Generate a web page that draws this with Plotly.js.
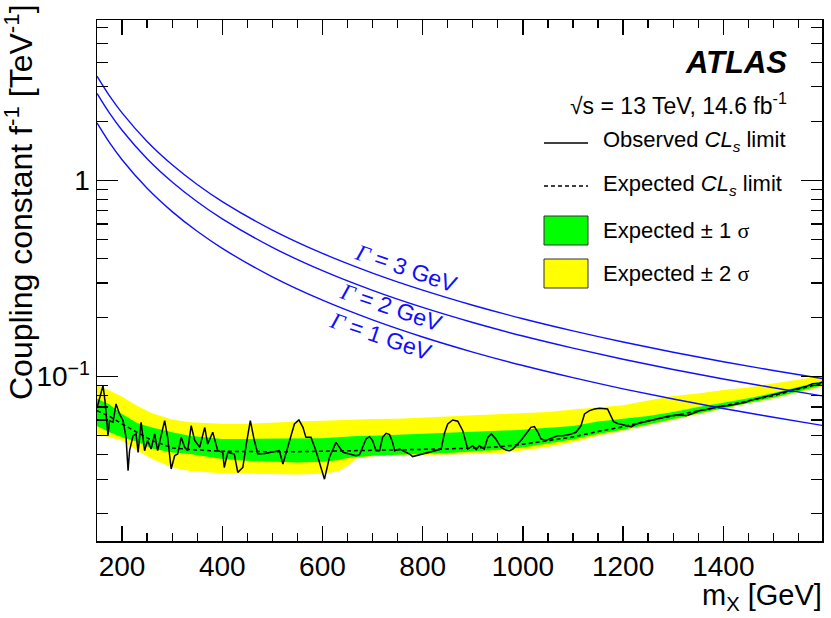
<!DOCTYPE html>
<html>
<head>
<meta charset="utf-8">
<script src="https://cdn.plot.ly/plotly-3.0.1.min.js"></script>
<style>html,body{margin:0;padding:0;background:#fff;}#plot{width:831px;height:618px;}</style>
</head>
<body>
<div id="plot"></div>
<script>
// ---------------- data ----------------
const bandMass = [150, 175, 200, 230, 260, 300, 335, 400, 450, 500, 550, 600, 630, 650, 670, 700, 750, 800, 850, 900, 950, 1000, 1050, 1100, 1150, 1200, 1250, 1300, 1350, 1400, 1450, 1500, 1550, 1600];
const expectedLimit = [0.067, 0.0627, 0.0573, 0.052, 0.0472, 0.0433, 0.0425, 0.0416, 0.0414, 0.0414, 0.0414, 0.0416, 0.0417, 0.0419, 0.042, 0.0422, 0.0423, 0.0425, 0.0428, 0.0432, 0.0438, 0.0452, 0.0471, 0.0492, 0.0525, 0.0555, 0.0595, 0.063, 0.0668, 0.071, 0.0752, 0.08, 0.0862, 0.0928];
const sigma1Up = [0.077, 0.072, 0.0645, 0.058, 0.055, 0.052, 0.05, 0.0481, 0.0481, 0.0481, 0.0481, 0.0485, 0.049, 0.0495, 0.0498, 0.05, 0.0505, 0.051, 0.0515, 0.052, 0.0527, 0.0535, 0.0548, 0.056, 0.059, 0.061, 0.063, 0.066, 0.07, 0.0735, 0.0775, 0.0825, 0.0885, 0.095];
const sigma1Down = [0.056, 0.052, 0.049, 0.0465, 0.043, 0.041, 0.0403, 0.038, 0.0372, 0.0368, 0.0365, 0.0368, 0.0375, 0.0385, 0.039, 0.0395, 0.04, 0.0403, 0.0408, 0.0415, 0.0422, 0.0435, 0.0455, 0.0478, 0.051, 0.0535, 0.057, 0.061, 0.0648, 0.069, 0.0732, 0.078, 0.084, 0.0905];
const sigma2Up = [0.09, 0.085, 0.079, 0.071, 0.065, 0.0605, 0.0585, 0.0575, 0.0575, 0.0585, 0.059, 0.0595, 0.06, 0.0603, 0.0605, 0.0607, 0.061, 0.0615, 0.0625, 0.0635, 0.0642, 0.065, 0.066, 0.068, 0.0697, 0.0715, 0.0755, 0.0795, 0.082, 0.0855, 0.088, 0.092, 0.096, 0.101];
const sigma2Down = [0.051, 0.049, 0.0472, 0.042, 0.038, 0.0344, 0.033, 0.0322, 0.032, 0.0318, 0.0317, 0.032, 0.0328, 0.035, 0.0385, 0.0393, 0.0395, 0.0397, 0.04, 0.0403, 0.0406, 0.042, 0.0438, 0.0462, 0.05, 0.053, 0.0565, 0.0605, 0.0645, 0.0688, 0.0728, 0.0772, 0.0832, 0.089];

const obsMass = [150, 156, 162, 166, 172, 175, 182, 188, 195, 202, 208, 212, 215, 222, 228, 232, 238, 245, 251, 258, 265, 271, 278, 285, 291, 298, 305, 311, 318, 325, 331, 338, 345, 355, 365, 371, 381, 391, 401, 404, 411, 424, 431, 441, 448, 456, 464, 471, 485, 501, 514, 521, 534, 544, 553, 561, 567, 577, 587, 597, 604, 614, 627, 641, 654, 667, 674, 680, 687, 694, 700, 707, 714, 720, 727, 734, 740, 744, 754, 760, 774, 780, 787, 800, 813, 827, 837, 843, 850, 860, 870, 880, 887, 890, 900, 907, 913, 923, 930, 937, 946, 956, 966, 973, 980, 990, 996, 1006, 1016, 1023, 1030, 1036, 1046, 1053, 1060, 1070, 1080, 1093, 1106, 1116, 1123, 1133, 1143, 1153, 1169, 1176, 1181, 1189, 1199, 1209, 1216, 1226, 1239, 1252, 1266, 1279, 1292, 1312, 1326, 1336, 1352, 1372, 1392, 1412, 1432, 1445, 1452, 1465, 1485, 1505, 1525, 1545, 1565, 1578, 1592, 1597];
const obsLimit = [0.069, 0.08, 0.09, 0.075, 0.05, 0.0596, 0.0585, 0.0725, 0.0645, 0.0596, 0.049, 0.0331, 0.0419, 0.05, 0.051, 0.0411, 0.0585, 0.0419, 0.0472, 0.0427, 0.051, 0.0419, 0.051, 0.0596, 0.049, 0.0338, 0.0395, 0.0403, 0.049, 0.0436, 0.0419, 0.0562, 0.0472, 0.0436, 0.0551, 0.0453, 0.052, 0.0419, 0.0411, 0.0344, 0.0411, 0.0403, 0.0325, 0.0344, 0.0453, 0.0596, 0.0472, 0.0403, 0.0405, 0.0411, 0.0419, 0.0358, 0.0462, 0.0573, 0.0601, 0.0551, 0.049, 0.049, 0.0419, 0.0338, 0.03, 0.0388, 0.0462, 0.0411, 0.0403, 0.0395, 0.04, 0.0436, 0.0481, 0.0494, 0.0472, 0.0419, 0.0419, 0.049, 0.0514, 0.0506, 0.0462, 0.0419, 0.0427, 0.0419, 0.0403, 0.0391, 0.0395, 0.0403, 0.0411, 0.0419, 0.0427, 0.051, 0.0573, 0.0601, 0.0592, 0.053, 0.0462, 0.0427, 0.0444, 0.0424, 0.0444, 0.0427, 0.049, 0.051, 0.0481, 0.0436, 0.0422, 0.0419, 0.0427, 0.0453, 0.0472, 0.051, 0.0551, 0.0556, 0.052, 0.0481, 0.0472, 0.0481, 0.049, 0.05, 0.05, 0.0506, 0.052, 0.0562, 0.0645, 0.0671, 0.0684, 0.0689, 0.0684, 0.0632, 0.0589, 0.0577, 0.0568, 0.0562, 0.0555, 0.0573, 0.0584, 0.0596, 0.0608, 0.062, 0.0629, 0.0639, 0.0632, 0.0644, 0.067, 0.0684, 0.0703, 0.0711, 0.0725, 0.074, 0.0754, 0.0769, 0.0791, 0.0815, 0.0841, 0.0865, 0.0889, 0.0918, 0.0925, 0.0936];

const widthMass = [150, 175, 200, 250, 300, 350, 400, 500, 600, 700, 800, 900, 1000, 1100, 1200, 1300, 1400, 1500, 1600];
const gamma1GeV = [1.96, 1.555, 1.273, 0.9108, 0.6928, 0.5498, 0.45, 0.322, 0.2449, 0.1944, 0.1591, 0.1333, 0.1138, 0.0987, 0.0866, 0.0768, 0.0687, 0.062, 0.05625];
const gamma2GeV = [2.772, 2.199, 1.8, 1.288, 0.98, 0.7776, 0.6364, 0.4554, 0.3463, 0.2749, 0.225, 0.1885, 0.1609, 0.1396, 0.1225, 0.1086, 0.0972, 0.0877, 0.0795];
const gamma3GeV = [3.395, 2.693, 2.205, 1.578, 1.2, 0.9523, 0.7794, 0.5577, 0.4242, 0.3367, 0.2756, 0.2309, 0.1971, 0.1709, 0.15, 0.133, 0.119, 0.1074, 0.0974];
const gammaLabels = ["Γ = 1 GeV", "Γ = 2 GeV", "Γ = 3 GeV"];
const gammaLabelMass = [716, 736, 766];
const gammaLabelValue = [0.1618, 0.2249, 0.3556];

const xTickVals = [200, 400, 600, 800, 1000, 1200, 1400];
const yTickVals = [0.1, 1];
const yTickText = ["10<sup>−1</sup>", "1"];
const yMinorVals = [0.02, 0.03, 0.04, 0.05, 0.06, 0.07, 0.08, 0.09, 0.2, 0.3, 0.4, 0.5, 0.6, 0.7, 0.8, 0.9, 2, 3, 4, 5, 6];
const legendLabels = ["Observed <i>CL<sub>s</sub></i> limit", "Expected <i>CL<sub>s</sub></i> limit",
  "Expected ± 1 <span style=\"font-family:'Liberation Serif'\">σ</span>", "Expected ± 2 <span style=\"font-family:'Liberation Serif'\">σ</span>"];

// ---------------- layout helpers ----------------
const W = 831, H = 618, ML = 97, MR = 9, MT = 20, MB = 77;
const PW = W - ML - MR, PH = H - MT - MB;
const px = x => (x - ML) / PW;
const py = y => (H - MB - y) / PH;
const FONT = "Liberation Sans, Arial, Helvetica, sans-serif";
const BLUE = "#1010ff";

const traces = [
  {x: bandMass, y: sigma2Down, mode: "lines", line: {width: 0, color: "#ffff00"}, hoverinfo: "skip", showlegend: false},
  {x: bandMass, y: sigma2Up, mode: "lines", line: {width: 0, color: "#ffff00"}, fill: "tonexty", fillcolor: "#ffff00", hoverinfo: "skip", showlegend: false},
  {x: bandMass, y: sigma1Down, mode: "lines", line: {width: 0, color: "#00ff00"}, hoverinfo: "skip", showlegend: false},
  {x: bandMass, y: sigma1Up, mode: "lines", line: {width: 0, color: "#00ff00"}, fill: "tonexty", fillcolor: "#00ff00", hoverinfo: "skip", showlegend: false},
  {x: bandMass, y: expectedLimit, mode: "lines", line: {width: 1.5, color: "#000", dash: "4px,3px"}, showlegend: false},
  {x: obsMass, y: obsLimit, mode: "lines", line: {width: 1.5, color: "#000"}, showlegend: false},
  {x: widthMass, y: gamma1GeV, mode: "lines", line: {width: 1.4, color: BLUE, shape: "spline"}, showlegend: false},
  {x: widthMass, y: gamma2GeV, mode: "lines", line: {width: 1.4, color: BLUE, shape: "spline"}, showlegend: false},
  {x: widthMass, y: gamma3GeV, mode: "lines", line: {width: 1.4, color: BLUE, shape: "spline"}, showlegend: false}
];

const annotations = [];
// Gamma labels (data coordinates; log axis uses log10 for annotation y)
for (let i = 0; i < gammaLabels.length; i++) {
  annotations.push({xref: "x", yref: "y", x: gammaLabelMass[i], y: Math.log10(gammaLabelValue[i]),
    text: gammaLabels[i].replace("Γ", "<span style=\"font-family:'Liberation Serif'\"><i>Γ</i></span>"),
    showarrow: false, textangle: 19, font: {family: FONT, size: 23, color: BLUE}});
}
annotations.push({xref: "paper", yref: "paper", x: px(789), y: py(63), xanchor: "right", yanchor: "middle",
  text: "<b><i>ATLAS</i></b>", showarrow: false, font: {family: FONT, size: 31, color: "#000"}});
annotations.push({xref: "paper", yref: "paper", x: px(789), y: py(104), xanchor: "right", yanchor: "middle",
  text: "√s = 13 TeV, 14.6 fb<sup>-1</sup>", showarrow: false, font: {family: FONT, size: 23, color: "#000"}});
const legendY = [141, 185, 230, 273];
for (let i = 0; i < legendLabels.length; i++) {
  annotations.push({xref: "paper", yref: "paper", x: px(601), y: py(legendY[i]), xanchor: "left", yanchor: "middle",
    text: legendLabels[i], showarrow: false, font: {family: FONT, size: 22, color: "#000"}});
}
annotations.push({xref: "paper", yref: "paper", x: px(19), y: py(2), xanchor: "center", yanchor: "top", textangle: -90,
  text: "Coupling constant f<sup>-1</sup> [TeV<sup>-1</sup>]", showarrow: false, font: {family: FONT, size: 32, color: "#000"}});
annotations.push({xref: "paper", yref: "paper", x: px(824), y: py(597), xanchor: "right", yanchor: "middle",
  text: "m<sub>X</sub> [GeV]", showarrow: false, font: {family: FONT, size: 29, color: "#000"}});

const shapes = [
  {type: "line", xref: "paper", yref: "paper", x0: px(544), x1: px(588), y0: py(143), y1: py(143), line: {color: "#000", width: 1.5}},
  {type: "line", xref: "paper", yref: "paper", x0: px(544), x1: px(588), y0: py(186), y1: py(186), line: {color: "#000", width: 1.5, dash: "4px,3px"}},
  {type: "rect", xref: "paper", yref: "paper", x0: px(544), x1: px(588), y0: py(216), y1: py(245), fillcolor: "#00ff00", line: {color: "#333", width: 1}},
  {type: "rect", xref: "paper", yref: "paper", x0: px(544), x1: px(588), y0: py(259), y1: py(288), fillcolor: "#ffff00", line: {color: "#333", width: 1}}
];

const layout = {
  width: W, height: H,
  margin: {l: ML, r: MR, t: MT, b: MB, pad: 0},
  paper_bgcolor: "#fff", plot_bgcolor: "#fff",
  showlegend: false,
  font: {family: FONT, size: 28, color: "#000"},
  xaxis: {
    range: [150, 1597], showgrid: false, zeroline: false,
    showline: true, linecolor: "#000", linewidth: 1.5, mirror: "ticks",
    ticks: "inside", ticklen: 15, tickwidth: 1.3, tickcolor: "#000",
    tickmode: "array", tickvals: xTickVals, ticktext: xTickVals.map(String),
    tickfont: {family: FONT, size: 28},
    minor: {ticks: "inside", ticklen: 8, tickwidth: 1.3, tickcolor: "#000", dtick: 50, tick0: 0, showgrid: false}
  },
  yaxis: {
    type: "log", range: [-1.838, 0.817], showgrid: false, zeroline: false,
    showline: true, linecolor: "#000", linewidth: 1.5, mirror: "ticks",
    ticks: "inside", ticklen: 21, tickwidth: 1.3, tickcolor: "#000",
    tickmode: "array", tickvals: yTickVals, ticktext: yTickText,
    tickfont: {family: FONT, size: 28},
    minor: {ticks: "inside", ticklen: 11, tickwidth: 1.3, tickcolor: "#000", tickmode: "array", tickvals: yMinorVals, showgrid: false}
  },
  annotations: annotations,
  shapes: shapes
};

Plotly.newPlot("plot", traces, layout, {staticPlot: true, displayModeBar: false});
</script>
</body>
</html>
